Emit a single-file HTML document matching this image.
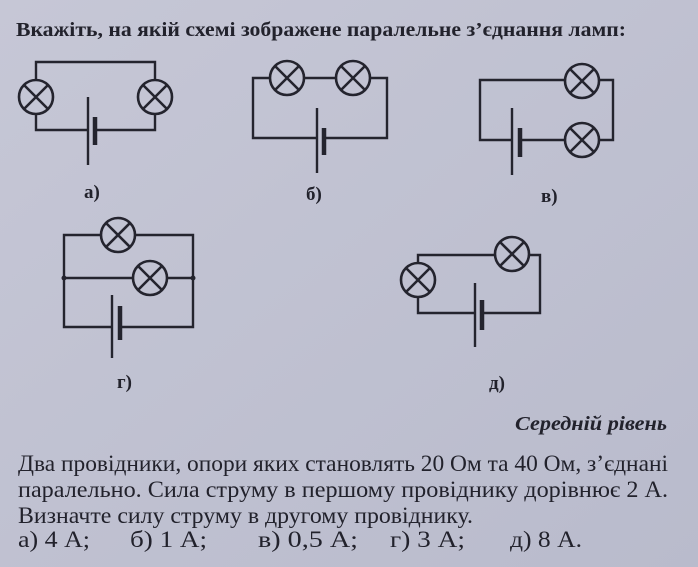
<!DOCTYPE html>
<html><head><meta charset="utf-8"><style>
html,body{margin:0;padding:0;background:#c2c3d3;}
svg{display:block}
</style></head><body>
<svg width="698" height="567" viewBox="0 0 698 567" xmlns="http://www.w3.org/2000/svg">
<defs>
<linearGradient id="bg" x1="0" y1="0" x2="1" y2="1">
<stop offset="0" stop-color="#c6c7d6"/><stop offset="1" stop-color="#b9bbcc"/>
</linearGradient>
<g id="lamp"><circle r="17" fill="none" stroke="#24242e" stroke-width="2.6"/><path d="M-12,-12 L12,12 M12,-12 L-12,12" stroke="#24242e" stroke-width="2.6"/></g>
</defs>
<rect width="698" height="567" fill="url(#bg)"/>
<g font-family="'Liberation Serif','Noto Serif CJK SC',serif" fill="#22222c">
<text x="16" y="36" font-size="20" font-weight="bold" textLength="610" lengthAdjust="spacingAndGlyphs">Вкажіть, на якій схемі зображене паралельне з’єднання ламп:</text>
<text x="84" y="198" font-size="19" font-weight="bold">а)</text>
<text x="306" y="200" font-size="19" font-weight="bold">б)</text>
<text x="541" y="202" font-size="19" font-weight="bold">в)</text>
<text x="117" y="388" font-size="19" font-weight="bold">г)</text>
<text x="489" y="389" font-size="19" font-weight="bold">д)</text>
<text x="667" y="430" font-size="20" font-weight="bold" font-style="italic" text-anchor="end" textLength="152" lengthAdjust="spacingAndGlyphs">Середній рівень</text>
<text x="18" y="471" font-size="23" textLength="650" lengthAdjust="spacingAndGlyphs">Два провідники, опори яких становлять 20 Ом та 40 Ом, з’єднані</text>
<text x="18" y="497" font-size="23" textLength="650" lengthAdjust="spacingAndGlyphs">паралельно. Сила струму в першому провіднику дорівнює 2 А.</text>
<text x="18" y="523" font-size="23" textLength="455" lengthAdjust="spacingAndGlyphs">Визначте силу струму в другому провіднику.</text>
<text x="18" y="547" font-size="23" textLength="72" lengthAdjust="spacingAndGlyphs">а) 4 А;</text>
<text x="130" y="547" font-size="23" textLength="77" lengthAdjust="spacingAndGlyphs">б) 1 А;</text>
<text x="258" y="547" font-size="23" textLength="100" lengthAdjust="spacingAndGlyphs">в) 0,5 А;</text>
<text x="390" y="547" font-size="23" textLength="75" lengthAdjust="spacingAndGlyphs">г) 3 А;</text>
<text x="510" y="547" font-size="23" textLength="72" lengthAdjust="spacingAndGlyphs">д) 8 А.</text>
</g>
<g fill="none" stroke="#24242e" stroke-width="2.4">
<path d="M36,80 V62 H155 V80 M36,114 V130 H88 M95,130 H155 V114"/>
<path d="M88,97 V165"/><path d="M95,117 V145" stroke-width="4.5"/>
<path d="M270,78 H253 V138 H317 M324,138 H387 V78 H370 M304,78 H336"/>
<path d="M317,108 V173"/><path d="M324,128 V155" stroke-width="4.5"/>
<path d="M565,80 H480 V140 H512 M520,140 H565 M599,80 H613 V140 H599"/>
<path d="M512,108 V175"/><path d="M520,128 V157" stroke-width="4.5"/>
<path d="M101,235 H64 V327 H112 M120,327 H193 V235 H135 M64,278 H133 M167,278 H193"/>
<path d="M112,295 V358"/><path d="M120,306 V340" stroke-width="4.5"/>
<path d="M418,263 V255 H495 M529,255 H540 V313 H482 M475,313 H418 V297"/>
<path d="M475,283 V347"/><path d="M482,300 V330" stroke-width="4.5"/>
</g>
<g fill="#24242e"><circle cx="64" cy="278" r="2.5"/><circle cx="193" cy="278" r="2.5"/></g>
<use href="#lamp" x="36" y="97"/><use href="#lamp" x="155" y="97"/>
<use href="#lamp" x="287" y="78"/><use href="#lamp" x="353" y="78"/>
<use href="#lamp" x="582" y="81"/><use href="#lamp" x="582" y="140"/>
<use href="#lamp" x="118" y="235"/><use href="#lamp" x="150" y="278"/>
<use href="#lamp" x="418" y="280"/><use href="#lamp" x="512" y="254"/>
</svg>
</body></html>
